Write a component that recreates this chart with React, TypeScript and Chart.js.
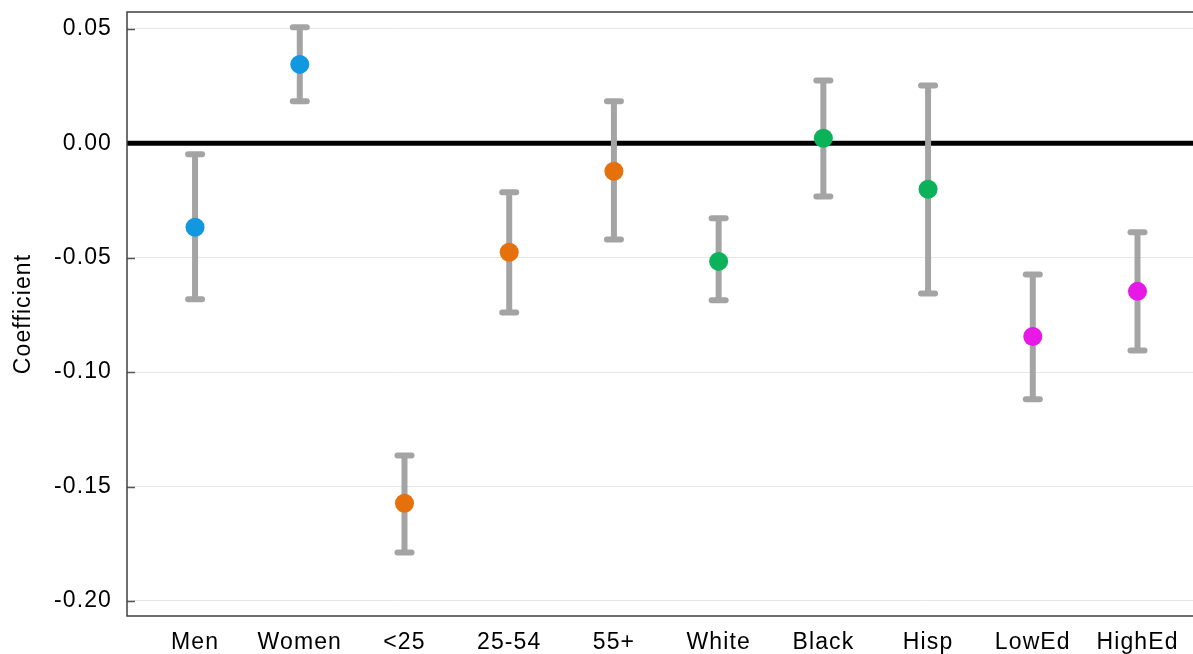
import React, { useEffect, useRef } from "react";
import { Chart, registerables } from "chart.js";

Chart.register(...registerables);

const categories = ["Men", "Women", "<25", "25-54", "55+", "White", "Black", "Hisp", "LowEd", "HighEd"];
const estimates = [-0.0367, 0.0345, -0.1573, -0.0476, -0.0122, -0.0516, 0.0022, -0.0201, -0.0844, -0.0647];
const lowerCI = [-0.0682, 0.0184, -0.1788, -0.0739, -0.042, -0.0686, -0.0232, -0.0656, -0.1119, -0.0905];
const upperCI = [-0.0048, 0.0507, -0.1364, -0.0214, 0.0184, -0.0328, 0.0275, 0.0253, -0.0573, -0.0389];
const groupColors = ["#1298e0", "#1298e0", "#e5700c", "#e5700c", "#e5700c", "#0bb25a", "#0bb25a", "#0bb25a", "#e619e6", "#e619e6"];
const yTickValues = [-0.2, -0.15, -0.1, -0.05, 0, 0.05];

const FONT = "'Liberation Sans', Arial, sans-serif";

const overlayPlugin = {
  id: "overlay",
  beforeDraw(chart: any) {
    chart.ctx.letterSpacing = "1.1px";
  },
  beforeDatasetsDraw(chart: any) {
    const { ctx, chartArea, scales } = chart;
    const x = scales.x;
    const y = scales.y;
    ctx.save();
    ctx.letterSpacing = "0px";
    // small inner tick marks on the left axis
    ctx.strokeStyle = "#555555";
    ctx.lineWidth = 1.5;
    yTickValues.forEach((v) => {
      const py = Math.round(y.getPixelForValue(v)) + 0.5;
      ctx.beginPath();
      ctx.moveTo(chartArea.left, py);
      ctx.lineTo(chartArea.left + 8, py);
      ctx.stroke();
    });
    // zero line
    const zy = y.getPixelForValue(0);
    ctx.strokeStyle = "#000000";
    ctx.lineWidth = 5;
    ctx.beginPath();
    ctx.moveTo(chartArea.left, zy);
    ctx.lineTo(chartArea.right, zy);
    ctx.stroke();
    // error bars
    ctx.strokeStyle = "#a4a4a4";
    categories.forEach((_, i) => {
      const px = x.getPixelForValue(i + 1);
      const lo = y.getPixelForValue(lowerCI[i]);
      const hi = y.getPixelForValue(upperCI[i]);
      ctx.lineWidth = 6;
      ctx.lineCap = "butt";
      ctx.beginPath();
      ctx.moveTo(px, lo);
      ctx.lineTo(px, hi);
      ctx.stroke();
      ctx.lineCap = "round";
      [lo, hi].forEach((py) => {
        ctx.beginPath();
        ctx.moveTo(px - 7, py);
        ctx.lineTo(px + 7, py);
        ctx.stroke();
      });
    });
    // border: left, top, bottom
    ctx.lineCap = "butt";
    ctx.strokeStyle = "#404040";
    ctx.lineWidth = 1.5;
    ctx.beginPath();
    ctx.moveTo(chartArea.right + 2, chartArea.top);
    ctx.lineTo(chartArea.left, chartArea.top);
    ctx.lineTo(chartArea.left, chartArea.bottom);
    ctx.lineTo(chartArea.right + 2, chartArea.bottom);
    ctx.stroke();
    ctx.restore();
  },
};

export default function App() {
  const ref = useRef<HTMLCanvasElement | null>(null);
  useEffect(() => {
    const canvas = ref.current;
    if (!canvas) return;
    const chart = new Chart(canvas, {
      type: "scatter",
      data: {
        datasets: [
          {
            data: estimates.map((v, i) => ({ x: i + 1, y: v })),
            pointBackgroundColor: groupColors,
            pointBorderWidth: 0,
            pointRadius: 9.5,
            pointHoverRadius: 9.5,
            showLine: false,
            clip: false,
          },
        ],
      },
      plugins: [overlayPlugin],
      options: {
        responsive: false,
        animation: false,
        layout: { autoPadding: false, padding: { top: 12, right: 0, left: 0, bottom: 0 } },
        plugins: { legend: { display: false }, tooltip: { enabled: false } },
        scales: {
          x: {
            type: "linear",
            min: 0.35,
            max: 10.53,
            afterFit: (s: any) => {
              s.height = 38;
              s.paddingLeft = 0;
              s.paddingRight = 0;
            },
            afterBuildTicks: (s: any) => {
              s.ticks = categories.map((_, i) => ({ value: i + 1 }));
            },
            grid: { display: false },
            border: { display: false },
            ticks: {
              autoSkip: false,
              maxRotation: 0,
              padding: 5,
              color: "#000000",
              font: { family: FONT, size: 23 },
              callback: (v: any) => categories[Math.round(v) - 1] ?? "",
            },
          },
          y: {
            min: -0.2066,
            max: 0.0574,
            afterFit: (s: any) => {
              s.width = 127;
              s.paddingTop = 0;
              s.paddingBottom = 0;
            },
            afterBuildTicks: (s: any) => {
              s.ticks = yTickValues.map((v) => ({ value: v }));
            },
            grid: { color: "#e6e6e6", lineWidth: 1, drawTicks: false },
            border: { display: false },
            ticks: {
              padding: 15,
              color: "#000000",
              font: { family: FONT, size: 23 },
              callback: (v: any) => Number(v).toFixed(2),
            },
            title: {
              display: true,
              text: "Coefficient",
              color: "#000000",
              font: { family: FONT, size: 23 },
              padding: { top: 10, bottom: 0 },
            },
          },
        },
      },
    });
    return () => chart.destroy();
  }, []);
  return (
    <canvas
      ref={ref}
      width={1193}
      height={654}
      style={{ position: "absolute", left: 0, top: 0, display: "block" }}
    />
  );
}
